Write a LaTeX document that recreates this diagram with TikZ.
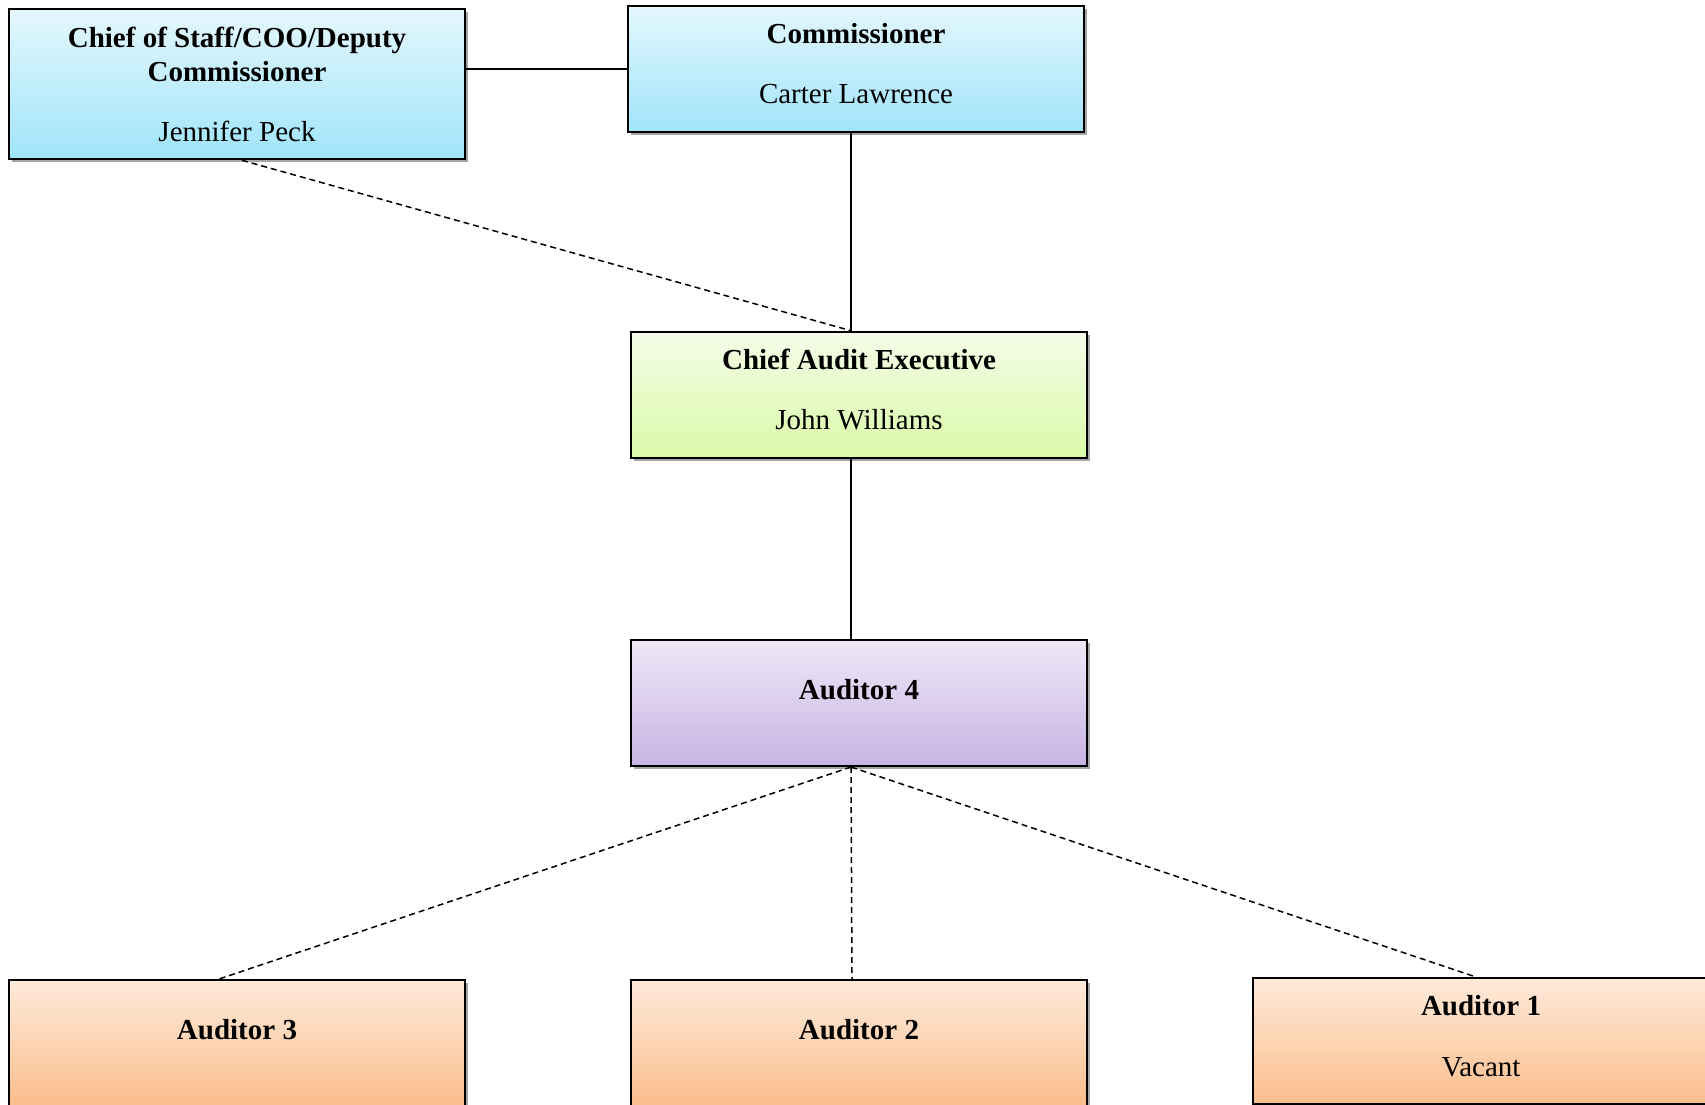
\documentclass[tikz,border=0pt]{standalone}
\usepackage{fontspec}
\setmainfont{Liberation Serif}
\usetikzlibrary{shadows}
\definecolor{blueT}{RGB}{228,247,253}
\definecolor{blueB}{RGB}{160,228,250}
\definecolor{greenT}{RGB}{244,252,232}
\definecolor{greenB}{RGB}{218,250,168}
\definecolor{purpleT}{RGB}{238,232,247}
\definecolor{purpleB}{RGB}{200,180,228}
\definecolor{orangeT}{RGB}{254,234,218}
\definecolor{orangeB}{RGB}{251,190,140}
\begin{document}
\begin{tikzpicture}[x=1pt,y=-1pt,
  box/.style={draw=black, line width=2pt, rectangle, minimum width=456pt,
    minimum height=126pt, inner sep=0pt, anchor=north west,
    drop shadow={shadow xshift=2.5pt, shadow yshift=-3pt, opacity=0.35, fill=black}},
  bluebox/.style={box, top color=blueT, bottom color=blueB},
  greenbox/.style={box, top color=greenT, bottom color=greenB},
  purplebox/.style={box, top color=purpleT, bottom color=purpleB},
  orangebox/.style={box, top color=orangeT, bottom color=orangeB},
  ttl/.style={font=\fontsize{29}{34}\selectfont\bfseries, anchor=base, inner sep=0pt},
  nm/.style={font=\fontsize{29}{34}\selectfont, anchor=base, inner sep=0pt},
  conn/.style={line width=1.5pt},
  dconn/.style={line width=1.5pt, dash pattern=on 6pt off 4pt}
]
\useasboundingbox (0,0) rectangle (1705,1104);
\clip (0,0) rectangle (1705,1104);
\fill[white] (0,0) rectangle (1705,1104);

\node[bluebox, minimum height=150pt] (cos) at (8,8.3) {};
\node[bluebox] (com) at (627,5) {};
\node[greenbox] (cae) at (630,330.7) {};
\node[purplebox] (a4) at (630,639) {};
\node[orangebox] (a3) at (8,979) {};
\node[orangebox] (a2) at (630,979) {};
\node[orangebox] (a1) at (1252,977) {};

\draw[conn] (com.west) -- (cos.east |- com.west);
\draw[conn] ([xshift=-8pt]cae.north) -- ([xshift=-8pt]cae.north |- com.south);
\draw[dconn] ([xshift=5pt]cos.south) -- ([xshift=-8pt]cae.north);
\draw[conn] ([xshift=-8pt]cae.south) -- ([xshift=-8pt]a4.north);
\draw[dconn] ([xshift=-8pt]a4.south) -- ([xshift=-18pt]a3.north);
\draw[dconn] ([xshift=-8pt]a4.south) -- ([xshift=-7pt]a2.north);
\draw[dconn] ([xshift=-8pt]a4.south) -- ([xshift=-5pt]a1.north);

\node[ttl] (cosT1) at ([yshift=-39pt]cos.north) {Chief of Staff/COO/Deputy};
\node[ttl] (cosT2) at ([yshift=-73pt]cos.north) {Commissioner};
\node[nm] (cosN) at ([yshift=-133.4pt]cos.north) {Jennifer Peck};

\node[ttl] (comT) at ([yshift=-38.3pt]com.north) {Commissioner};
\node[nm] (comN) at ([yshift=-98.7pt]com.north) {Carter Lawrence};

\node[ttl] (caeT) at ([yshift=-38.6pt]cae.north) {Chief Audit Executive};
\node[nm] (caeN) at ([yshift=-98.6pt]cae.north) {John Williams};

\node[ttl] (a4T) at ([yshift=-60pt]a4.north) {Auditor 4};
\node[ttl] (a3T) at ([yshift=-60.3pt]a3.north) {Auditor 3};
\node[ttl] (a2T) at ([yshift=-60.3pt]a2.north) {Auditor 2};
\node[ttl] (a1T) at ([yshift=-38.3pt]a1.north) {Auditor 1};
\node[nm] (a1N) at ([yshift=-99.3pt]a1.north) {Vacant};
\end{tikzpicture}
\end{document}
